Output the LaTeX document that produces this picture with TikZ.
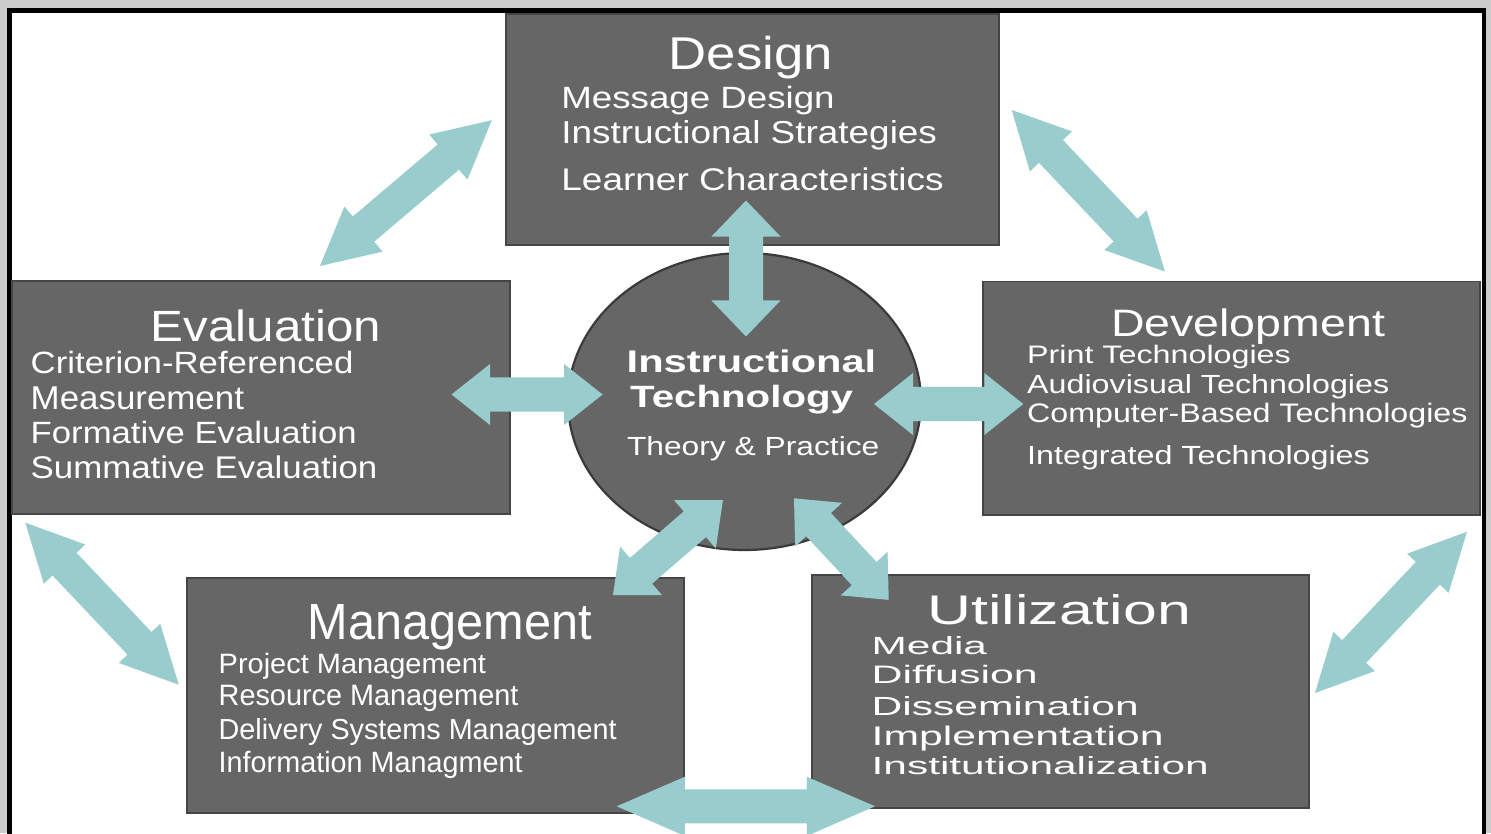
\documentclass[tikz,border=0pt]{standalone}
\usepackage{fontspec}
\setmainfont{Liberation Sans}
\usetikzlibrary{shapes.geometric}
\usepackage{graphicx}

\definecolor{pagegray}{HTML}{CCCCCC}
\definecolor{boxgray}{HTML}{666666}
\definecolor{boxedge}{HTML}{454545}
\definecolor{hubedge}{HTML}{3A3A3A}
\definecolor{flowteal}{RGB}{153,204,204}

% one drawing unit = one pixel of the 1491 x 833 canvas
\newdimen\pxu \pxu=0.01cm
\newdimen\arAx \newdimen\arAy \newdimen\arBx \newdimen\arBy

% double-headed block arrow between two named coordinates
% #3 shaft half width, #4 head half width, #5 head length (pixels)
\newcommand{\flowarrow}[5]{%
  \pgfextractx{\arAx}{\pgfpointanchor{#1}{center}}%
  \pgfextracty{\arAy}{\pgfpointanchor{#1}{center}}%
  \pgfextractx{\arBx}{\pgfpointanchor{#2}{center}}%
  \pgfextracty{\arBy}{\pgfpointanchor{#2}{center}}%
  \pgfmathsetmacro{\arang}{atan2(\arBy-\arAy,\arBx-\arAx)}%
  \pgfmathsetmacro{\arlen}{veclen(\arBx-\arAx,\arBy-\arAy)}%
  \pgfmathsetmacro{\arsh}{#3*0.28453}%
  \pgfmathsetmacro{\arhd}{#4*0.28453}%
  \pgfmathsetmacro{\arhl}{#5*0.28453}%
  \pgfmathsetmacro{\armid}{\arlen-\arhl}%
  \fill[flowfill, shift={(#1)}, rotate=\arang]
    (0pt,0pt) -- (\arhl pt,\arhd pt) -- (\arhl pt,\arsh pt)
    -- (\armid pt,\arsh pt) -- (\armid pt,\arhd pt) -- (\arlen pt,0pt)
    -- (\armid pt,-\arhd pt) -- (\armid pt,-\arsh pt)
    -- (\arhl pt,-\arsh pt) -- (\arhl pt,-\arhd pt) -- cycle;}

% one line of label text: name, left x, baseline y, width, cap height, text
\newcommand{\tline}[6]{%
  \node[lbl] (#1) at (#2,#3) {\resizebox{#4\pxu}{#5\pxu}{#6}};}

\tikzset{
  box/.style={rectangle, fill=boxgray, draw=boxedge, line width=1.6\pxu, inner sep=0pt},
  hub/.style={ellipse, fill=boxgray, draw=hubedge, line width=2.2\pxu, inner sep=0pt},
  flowfill/.style={fill=flowteal},
  lbl/.style={text=white, inner sep=0pt, anchor=base west},
  frameline/.style={draw=black, line width=4.8\pxu}
}

\begin{document}
\begin{tikzpicture}[x=0.01cm, y=-0.01cm]
\useasboundingbox (0,0) rectangle (1491,833);
\clip (0,0) rectangle (1491,833);

% page and frame
\fill[pagegray] (0,0) rectangle (1491,833);
\fill[white] (9.5,10.5) rectangle (1484,840);
\draw[frameline] (9.5,840) -- (9.5,10.5) -- (1484,10.5) -- (1484,840);

% the five domains and the hub
\node[box, minimum width=493\pxu, minimum height=231\pxu] (design) at (752.5,129.5) {};
\node[box, minimum width=498\pxu, minimum height=233\pxu] (eval)   at (261,397.5) {};
\node[box, minimum width=497\pxu, minimum height=233.5\pxu] (devel) at (1231.5,398.25) {};
\node[box, minimum width=497\pxu, minimum height=235\pxu] (mgmt)   at (435.5,695.5) {};
\node[box, minimum width=497\pxu, minimum height=233\pxu] (util)   at (1060.5,691.5) {};
\node[hub, minimum width=353\pxu, minimum height=297\pxu] (core)  at (744.5,401.5) {};

% arrow end points
\coordinate (de1) at (320,266);     \coordinate (de2) at (492,120);
\coordinate (dd1) at (1011.7,110);  \coordinate (dd2) at (1165,271.7);
\coordinate (dc1) at (746,200.5);   \coordinate (dc2) at (746,336.5);
\coordinate (ec1) at (451.5,394.5); \coordinate (ec2) at (602.6,394.5);
\coordinate (cv1) at (874,404);     \coordinate (cv2) at (1023.3,404);
\coordinate (cm1) at (613,595);     \coordinate (cm2) at (723,500);
\coordinate (cu1) at (794,498.3);   \coordinate (cu2) at (888.8,600);
\coordinate (em1) at (25.3,522.7);  \coordinate (em2) at (179,685);
\coordinate (uv1) at (1315,693);    \coordinate (uv2) at (1467,531.7);
\coordinate (mu1) at (616.7,806.3); \coordinate (mu2) at (875,806.3);

% connectors
\flowarrow{de1}{de2}{16.5}{29.5}{57}
\flowarrow{dd1}{dd2}{16.5}{29}{57}
\flowarrow{dc1}{dc2}{17}{34.5}{36}
\flowarrow{ec1}{ec2}{17}{30.5}{38.5}
\flowarrow{cv1}{cv2}{17}{31}{39}
\flowarrow{cm1}{cm2}{17}{32}{37}
\flowarrow{cu1}{cu2}{17}{32}{36}
\flowarrow{em1}{em2}{16.5}{28.5}{57}
\flowarrow{uv1}{uv2}{16.5}{28.5}{57}
\flowarrow{mu1}{mu2}{17}{29.5}{68}

% Design
\tline{design-t}{668}{69}{164}{33.3}{Design}
\tline{design-1}{560.7}{108}{273.3}{22.3}{Message Design}
\tline{design-2}{560.7}{143.3}{375.6}{23}{Instructional Strategies}
\tline{design-3}{560.7}{190.7}{382.3}{22.7}{Learner Characteristics}

% Evaluation
\tline{eval-t}{150}{341.3}{230.3}{31.7}{Evaluation}
\tline{eval-1}{30}{373}{322.7}{22.3}{Criterion-Referenced}
\tline{eval-2}{30}{409}{213.3}{22.7}{Measurement}
\tline{eval-3}{30}{443}{326}{22.3}{Formative Evaluation}
\tline{eval-4}{30}{478}{346.7}{22.7}{Summative Evaluation}

% Development
\tline{devel-t}{1110.3}{336}{274}{27.7}{Development}
\tline{devel-1}{1026.5}{363.3}{263.6}{18.3}{Print Technologies}
\tline{devel-2}{1026.5}{393.3}{362}{19}{Audiovisual Technologies}
\tline{devel-3}{1026.5}{422.7}{440.3}{19.4}{Computer-Based Technologies}
\tline{devel-4}{1026.5}{464}{342.6}{19}{Integrated Technologies}

% Management
\tline{mgmt-t}{307}{639}{284}{35}{Management}
\tline{mgmt-1}{218}{673}{267.3}{20.3}{Project Management}
\tline{mgmt-2}{218}{705.7}{299.7}{20.3}{Resource Management}
\tline{mgmt-3}{218}{739}{398}{21}{Delivery Systems Management}
\tline{mgmt-4}{218}{772.3}{304}{21.3}{Information Managment}

% Utilization
\tline{util-t}{926.7}{624}{263.6}{30}{Utilization}
\tline{util-1}{871}{654}{115.3}{18}{Media}
\tline{util-2}{871}{683.3}{166}{18.3}{Diffusion}
\tline{util-3}{871}{715}{267}{19}{Dissemination}
\tline{util-4}{871}{745.7}{292}{19.5}{Implementation}
\tline{util-5}{871}{774}{337}{18}{Institutionalization}

% hub
\tline{core-1}{626}{372.7}{249.5}{22.7}{\bfseries Instructional}
\tline{core-2}{629.5}{407.3}{222.8}{22.3}{\bfseries Technology}
\tline{core-3}{626.3}{455}{252.4}{19}{Theory \& Practice}
\end{tikzpicture}
\end{document}
